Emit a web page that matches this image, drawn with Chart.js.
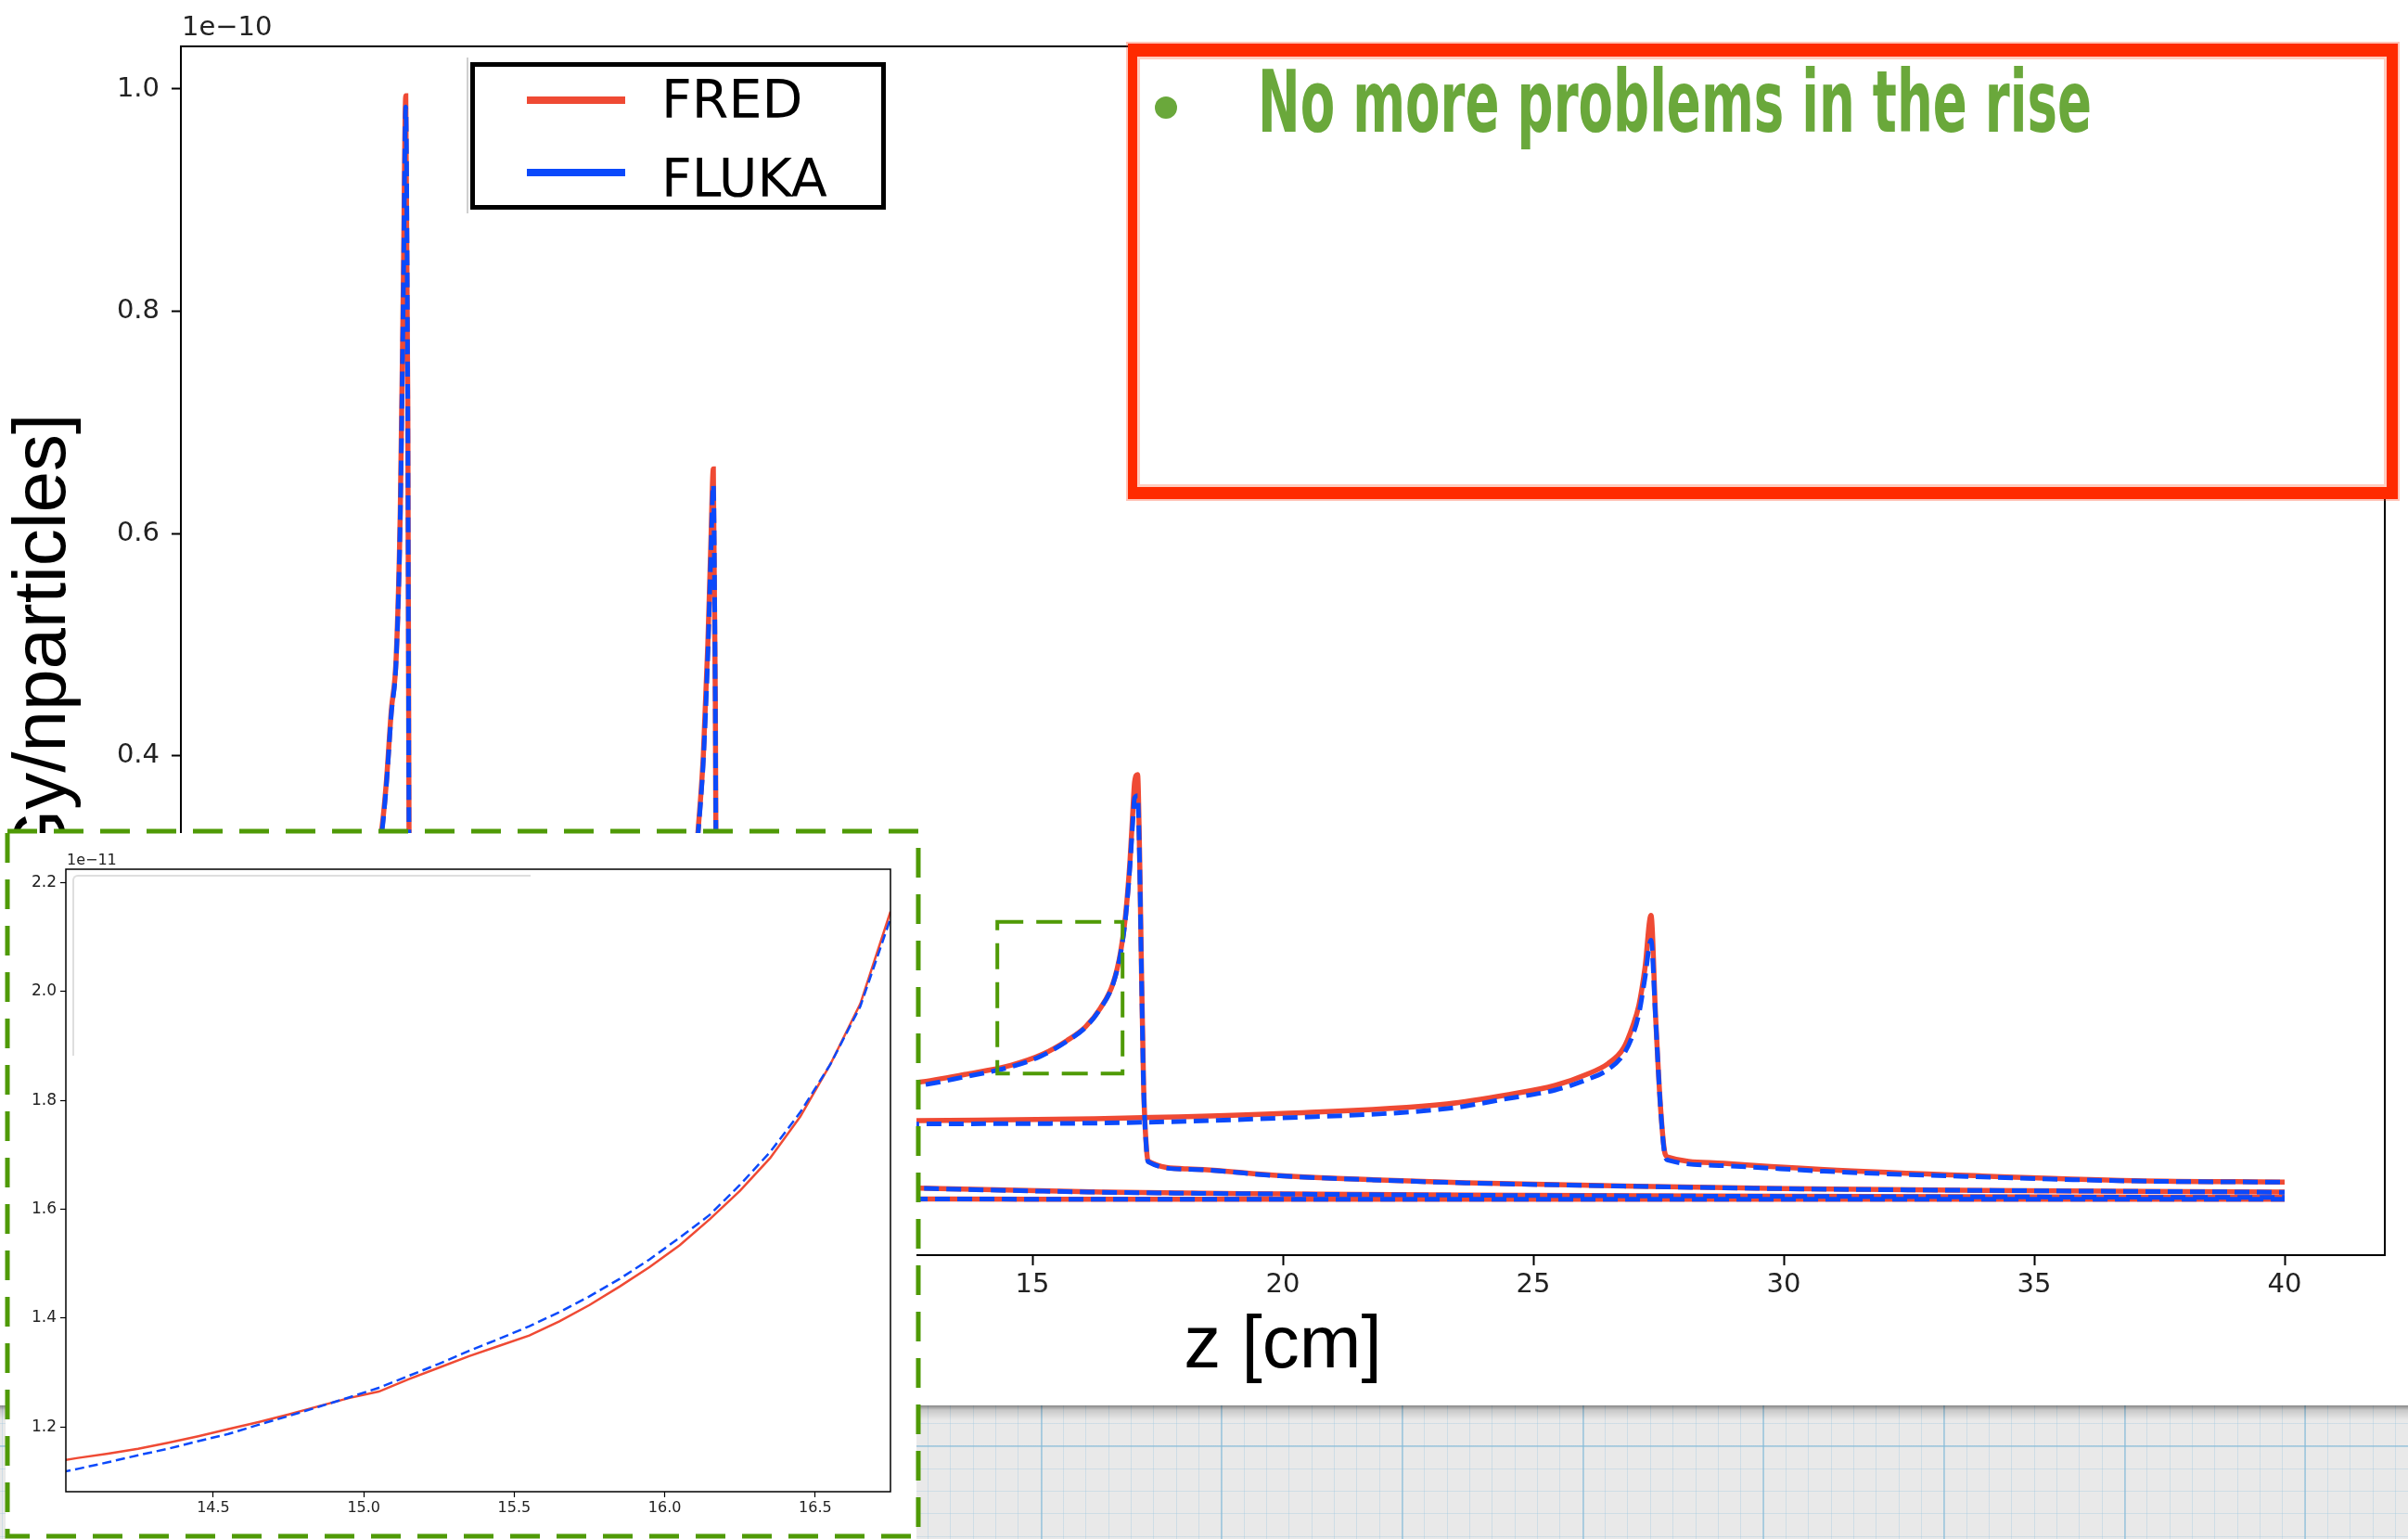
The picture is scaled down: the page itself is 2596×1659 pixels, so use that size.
<!DOCTYPE html>
<html>
<head>
<meta charset="utf-8">
<script src="https://cdn.jsdelivr.net/npm/chart.js@4.4.0/dist/chart.umd.min.js"></script>
<style>
  html, body { margin: 0; padding: 0; background: #fff; }
  body { width: 2596px; height: 1659px; position: relative; overflow: hidden; }
  #main { position: absolute; left: 0; top: 0; }
  #paper {
    position: absolute; left: 0; top: 1515px; width: 2596px; height: 144px;
    background-color: #e9e9e9;
    background-image:
      linear-gradient(to bottom, rgba(0,0,0,0.42), rgba(0,0,0,0.14) 5px, rgba(0,0,0,0) 16px),
      repeating-linear-gradient(90deg, transparent 0 148px, rgba(130,185,215,0.55) 148px 150px, transparent 150px 194.7px),
      linear-gradient(to bottom, transparent 0 43px, rgba(130,185,215,0.55) 43px 45px, transparent 45px),
      repeating-linear-gradient(90deg, transparent 0 2px, rgba(150,195,222,0.32) 2px 3px, transparent 3px 24.34px),
      repeating-linear-gradient(180deg, transparent 0 19px, rgba(150,195,222,0.32) 19px 20px, transparent 20px 24.34px);
  }
  #redbox {
    position: absolute; left: 1216px; top: 47px; width: 1369px; height: 491px;
    box-sizing: border-box; background: #fff;
    border-style: solid; border-color: #ff2a00; border-width: 14px 12px 13px 10px;
    box-shadow: 0 0 0 2px rgba(255,60,20,0.3), inset 0 0 0 3px rgba(255,90,50,0.3);
  }
  #bullet { position: absolute; left: 1245px; top: 104px; width: 24px; height: 24px; border-radius: 50%; background: #6aa83b; }
  #note {
    position: absolute; left: 1356px; top: 65px; white-space: nowrap;
    font: bold 92px/1 "Liberation Sans Narrow", "DejaVu Sans Condensed", sans-serif;
    color: #6aa83b; transform-origin: 0 0;
  }
  #legendBox {
    position: absolute; left: 507px; top: 67px; width: 448px; height: 159px;
    box-sizing: border-box; border: 5px solid #000; background: #fff;
  }
  #legendShade { position: absolute; left: 503px; top: 62px; width: 2px; height: 168px; background: #cfcfcf; }
  .legLine { position: absolute; height: 8px; }
  .legText { position: absolute; font: 57px/1 "DejaVu Sans", sans-serif; color: #000; white-space: nowrap; }
  #insetWrap { position: absolute; left: 6px; top: 898px; width: 982px; height: 761px; background: #fff; }
  #insetGhost {
    position: absolute; left: 72px; top: 45px; width: 492px; height: 193px;
    border-top: 2px solid #dedede; border-left: 2px solid #dedede; border-top-left-radius: 6px;
  }
  #frames { position: absolute; left: 0; top: 0; }
</style>
</head>
<body>
<div id="paper"></div>
<canvas id="main" width="2596" height="1515"></canvas>
<div id="redbox"></div>
<div id="bullet"></div>
<div id="note">No more problems in the rise</div>
<div id="legendShade"></div>
<div id="legendBox"></div>
<div id="insetWrap">
  <canvas id="inset" width="982" height="761"></canvas>
  <div id="insetGhost"></div>
</div>
<svg id="frames" width="2596" height="1659">
  <rect x="8" y="896" width="982" height="760" fill="none" stroke="#4f9a06" stroke-width="5" stroke-dasharray="32 18"/>
</svg>
<script>
// ---- data (dose in units of 1e-10 Gy/nparticles, depth z in cm) ----
const seriesNames = ['FRED', 'FLUKA'];
const seriesColors = ['#ef4a34', '#0b49fb'];

const zA = [0, 0.5, 1.0, 1.5, 1.8, 2.0, 2.1, 2.2, 2.3, 2.38, 2.44, 2.49, 2.53, 2.56, 2.6, 3, 5, 10, 15, 20, 25, 30, 35, 40];
const fredA = [0.215, 0.225, 0.24, 0.265, 0.295, 0.33, 0.375, 0.44, 0.49, 0.62, 0.82, 0.994, 0.72, 0.25, 0.004, 0.0015, 0.0012, 0.001, 0.0009, 0.0008, 0.0008, 0.0008, 0.0007, 0.0007];
const flukaA = [0.212, 0.222, 0.237, 0.262, 0.292, 0.327, 0.372, 0.437, 0.488, 0.615, 0.81, 0.984, 0.71, 0.24, 0.004, 0.0015, 0.0012, 0.001, 0.0009, 0.0008, 0.0008, 0.0008, 0.0007, 0.0007];

const zB = [0, 2, 4, 6, 7, 7.6, 8.0, 8.2, 8.33, 8.43, 8.52, 8.58, 8.63, 8.67, 8.70, 8.74, 9.0, 10, 11, 12.72, 16.4, 20, 23.65, 30, 37, 40];
const fredB = [0.125, 0.13, 0.138, 0.152, 0.165, 0.185, 0.225, 0.265, 0.335, 0.40, 0.50, 0.59, 0.658, 0.45, 0.12, 0.03, 0.022, 0.016, 0.013, 0.0108, 0.0072, 0.0056, 0.0045, 0.0035, 0.0027, 0.0025];
const flukaB = [0.123, 0.128, 0.136, 0.150, 0.163, 0.183, 0.222, 0.262, 0.332, 0.395, 0.49, 0.58, 0.644, 0.44, 0.12, 0.03, 0.022, 0.016, 0.013, 0.0107, 0.0071, 0.0055, 0.0044, 0.0034, 0.0026, 0.0024];

const zC = [0, 3, 6, 9, 11, 12.72, 13.65, 14.57, 15.19, 15.69, 16.06, 16.36, 16.61, 16.76, 16.86, 16.95, 17.01, 17.04, 17.10, 17.14, 17.17, 17.22, 17.28, 17.31, 18.09, 19.94, 21.8, 23.65, 26.8, 30, 34, 40];
const fredC = [0.080, 0.083, 0.087, 0.093, 0.099, 0.106, 0.1131, 0.1214, 0.131, 0.1436, 0.156, 0.1729, 0.1951, 0.223, 0.2563, 0.3064, 0.354, 0.376, 0.383, 0.312, 0.228, 0.103, 0.045, 0.0351, 0.0282, 0.0221, 0.0184, 0.0157, 0.0128, 0.0105, 0.0088, 0.0072];
const flukaC = [0.077, 0.080, 0.084, 0.090, 0.096, 0.103, 0.111, 0.120, 0.130, 0.143, 0.1555, 0.1725, 0.1945, 0.222, 0.254, 0.302, 0.345, 0.362, 0.364, 0.305, 0.225, 0.102, 0.044, 0.0345, 0.0278, 0.0218, 0.0182, 0.0155, 0.0126, 0.0103, 0.0087, 0.0071];

const zD = [0, 4, 8, 12.72, 16.24, 20, 23.28, 24.51, 25.44, 26.06, 26.49, 26.80, 26.98, 27.11, 27.23, 27.35, 27.44, 27.54, 27.63, 27.69, 28.8, 30.8, 33.8, 37, 40];
const fredD = [0.064, 0.066, 0.069, 0.0715, 0.0733, 0.078, 0.0866, 0.095, 0.1033, 0.1131, 0.1228, 0.1367, 0.156, 0.1757, 0.209, 0.2563, 0.167, 0.0839, 0.042, 0.0388, 0.0331, 0.0276, 0.022, 0.0175, 0.0163];
const flukaD = [0.060, 0.062, 0.065, 0.0685, 0.0693, 0.074, 0.0824, 0.0916, 0.0991, 0.1083, 0.1175, 0.1311, 0.1478, 0.168, 0.200, 0.234, 0.165, 0.083, 0.040, 0.036, 0.031, 0.026, 0.021, 0.0172, 0.0162];

const zTicks = [0, 5, 10, 15, 20, 25, 30, 35, 40];
const doseTicks = [0, 0.2, 0.4, 0.6, 0.8, 1.0];

// zoomed region marked in the main plot (z cm, dose 1e-10)
const zoomZ = [14.3, 16.8];
const zoomDose = [0.114, 0.2505];

// ---- inset data (dose in units of 1e-11) ----
const insetZ = [13.95, 14.05, 14.15, 14.25, 14.35, 14.45, 14.55, 14.65, 14.75, 14.85, 14.95, 15.05, 15.15, 15.25, 15.35, 15.45, 15.55, 15.65, 15.75, 15.85, 15.95, 16.05, 16.15, 16.25, 16.35, 16.45, 16.55, 16.65, 16.75, 16.85];
const insetFred = [1.134, 1.143, 1.151, 1.160, 1.171, 1.183, 1.196, 1.209, 1.223, 1.238, 1.253, 1.265, 1.288, 1.309, 1.330, 1.349, 1.368, 1.394, 1.424, 1.458, 1.494, 1.534, 1.582, 1.634, 1.694, 1.770, 1.866, 1.978, 2.147, 2.40];
const insetFluka = [1.112, 1.123, 1.135, 1.148, 1.160, 1.174, 1.187, 1.204, 1.220, 1.237, 1.254, 1.272, 1.294, 1.316, 1.340, 1.362, 1.385, 1.411, 1.440, 1.472, 1.508, 1.548, 1.590, 1.645, 1.705, 1.778, 1.866, 1.973, 2.134, 2.38];
const insetZTicks = [14.5, 15.0, 15.5, 16.0, 16.5];
const insetDoseTicks = [1.2, 1.4, 1.6, 1.8, 2.0, 2.2];

const pts = (zs, vs) => zs.map((z, i) => ({ x: z, y: vs[i] }));

function fredSet(zs, vs, w) {
  return { label: seriesNames[0], data: pts(zs, vs), borderColor: seriesColors[0], borderWidth: w, order: 2 };
}
function flukaSet(zs, vs, w, dash) {
  return { label: seriesNames[1], data: pts(zs, vs), borderColor: seriesColors[1], borderWidth: w, borderDash: dash, order: 1 };
}

const tickFont = { family: 'DejaVu Sans', size: 29 };
const labelFont = { family: 'Liberation Sans, Arial, sans-serif', size: 80 };

const frame = {
  id: 'frame',
  afterDraw(chart, args, opts) {
    const { ctx, chartArea: a } = chart;
    ctx.save();
    ctx.strokeStyle = '#000';
    ctx.lineWidth = opts.width;
    ctx.strokeRect(a.left, a.top, a.right - a.left, a.bottom - a.top);
    ctx.fillStyle = '#222';
    ctx.font = opts.font;
    ctx.textBaseline = 'alphabetic';
    ctx.fillText(opts.text, a.left + 1, opts.textY);
    ctx.restore();
  }
};

const zoomBox = {
  id: 'zoomBox',
  afterDatasetsDraw(chart) {
    const { ctx, scales } = chart;
    const x0 = scales.x.getPixelForValue(zoomZ[0]), x1 = scales.x.getPixelForValue(zoomZ[1]);
    const y0 = scales.y.getPixelForValue(zoomDose[1]), y1 = scales.y.getPixelForValue(zoomDose[0]);
    ctx.save();
    ctx.strokeStyle = '#4f9a06';
    ctx.lineWidth = 4;
    ctx.setLineDash([28, 14]);
    ctx.strokeRect(x0, y0, x1 - x0, y1 - y0);
    ctx.restore();
  }
};

new Chart(document.getElementById('main'), {
  type: 'line',
  data: {
    datasets: [
      fredSet(zA, fredA, 5.5), flukaSet(zA, flukaA, 5, [16, 8]),
      fredSet(zB, fredB, 5.5), flukaSet(zB, flukaB, 5, [16, 8]),
      fredSet(zC, fredC, 5.5), flukaSet(zC, flukaC, 5, [16, 8]),
      fredSet(zD, fredD, 5.5), flukaSet(zD, flukaD, 5, [16, 8])
    ]
  },
  options: {
    responsive: false,
    animation: false,
    devicePixelRatio: 1,
    layout: { padding: { left: 0, top: 50, right: 25, bottom: 0 } },
    elements: { point: { radius: 0 }, line: { tension: 0, fill: false, cubicInterpolationMode: 'monotone' } },
    plugins: {
      legend: { display: false },
      tooltip: { enabled: false },
      frame: { width: 2, font: '29px "DejaVu Sans"', text: '1e\u221210', textY: 38 }
    },
    scales: {
      x: {
        type: 'linear', min: -2, max: 42,
        afterFit: s => { s.height = 162; },
        afterBuildTicks: s => { s.ticks = zTicks.map(v => ({ value: v })); },
        ticks: { font: tickFont, color: '#222', padding: 4, maxRotation: 0, autoSkip: false, callback: v => String(v) },
        grid: { drawOnChartArea: false, drawTicks: true, tickLength: 11, tickColor: '#000', tickWidth: 2 },
        border: { display: false },
        title: { display: true, text: 'z [cm]', font: labelFont, color: '#000', padding: { top: 0, bottom: 15 } }
      },
      y: {
        type: 'linear', min: -0.0495, max: 1.0384,
        afterFit: s => { s.width = 195; },
        afterBuildTicks: s => { s.ticks = doseTicks.map(v => ({ value: v })); },
        ticks: { font: tickFont, color: '#222', padding: 13, autoSkip: false, callback: v => v.toFixed(1) },
        grid: { drawOnChartArea: false, drawTicks: true, tickLength: 10, tickColor: '#000', tickWidth: 2 },
        border: { display: false },
        title: { display: true, text: '[Gy/nparticles]', font: labelFont, color: '#000', padding: { top: 0, bottom: 0 } }
      }
    }
  },
  plugins: [frame, zoomBox]
});

const smallFont = { family: 'DejaVu Sans', size: 16 };
new Chart(document.getElementById('inset'), {
  type: 'line',
  data: {
    datasets: [
      fredSet(insetZ, insetFred, 2.5),
      flukaSet(insetZ, insetFluka, 2.5, [10, 5])
    ]
  },
  options: {
    responsive: false,
    animation: false,
    devicePixelRatio: 1,
    layout: { padding: { left: 0, top: 39, right: 28, bottom: 0 } },
    elements: { point: { radius: 0 }, line: { tension: 0, fill: false } },
    plugins: {
      legend: { display: false },
      tooltip: { enabled: false },
      frame: { width: 1.5, font: '16px "DejaVu Sans"', text: '1e\u221211', textY: 34 }
    },
    scales: {
      x: {
        type: 'linear', min: 14.01, max: 16.75,
        afterFit: s => { s.height = 51; },
        afterBuildTicks: s => { s.ticks = insetZTicks.map(v => ({ value: v })); },
        ticks: { font: smallFont, color: '#222', padding: 2, maxRotation: 0, autoSkip: false, callback: v => v.toFixed(1) },
        grid: { drawOnChartArea: false, drawTicks: true, tickLength: 6, tickColor: '#000', tickWidth: 1.2 },
        border: { display: false }
      },
      y: {
        type: 'linear', min: 1.081, max: 2.2248,
        afterFit: s => { s.width = 65; },
        afterBuildTicks: s => { s.ticks = insetDoseTicks.map(v => ({ value: v })); },
        ticks: { font: { family: 'DejaVu Sans', size: 17 }, color: '#222', padding: 4, autoSkip: false, callback: v => v.toFixed(1) },
        grid: { drawOnChartArea: false, drawTicks: true, tickLength: 6, tickColor: '#000', tickWidth: 1.2 },
        border: { display: false }
      }
    }
  },
  plugins: [frame]
});

// legend for the main plot
const legRows = [{ lineY: 108, textTop: 79 }, { lineY: 186, textTop: 164 }];
seriesNames.forEach((name, i) => {
  const line = document.createElement('div');
  line.className = 'legLine';
  line.style.left = '568px';
  line.style.width = '106px';
  line.style.top = (legRows[i].lineY - 4) + 'px';
  line.style.background = seriesColors[i];
  document.body.appendChild(line);
  const txt = document.createElement('div');
  txt.className = 'legText';
  txt.style.left = '713px';
  txt.style.top = legRows[i].textTop + 'px';
  txt.textContent = name;
  document.body.appendChild(txt);
});

// squeeze the note to the width of the handwritten original
const note = document.getElementById('note');
note.style.transform = 'scaleX(' + (899 / note.offsetWidth) + ')';
</script>
</body>
</html>
